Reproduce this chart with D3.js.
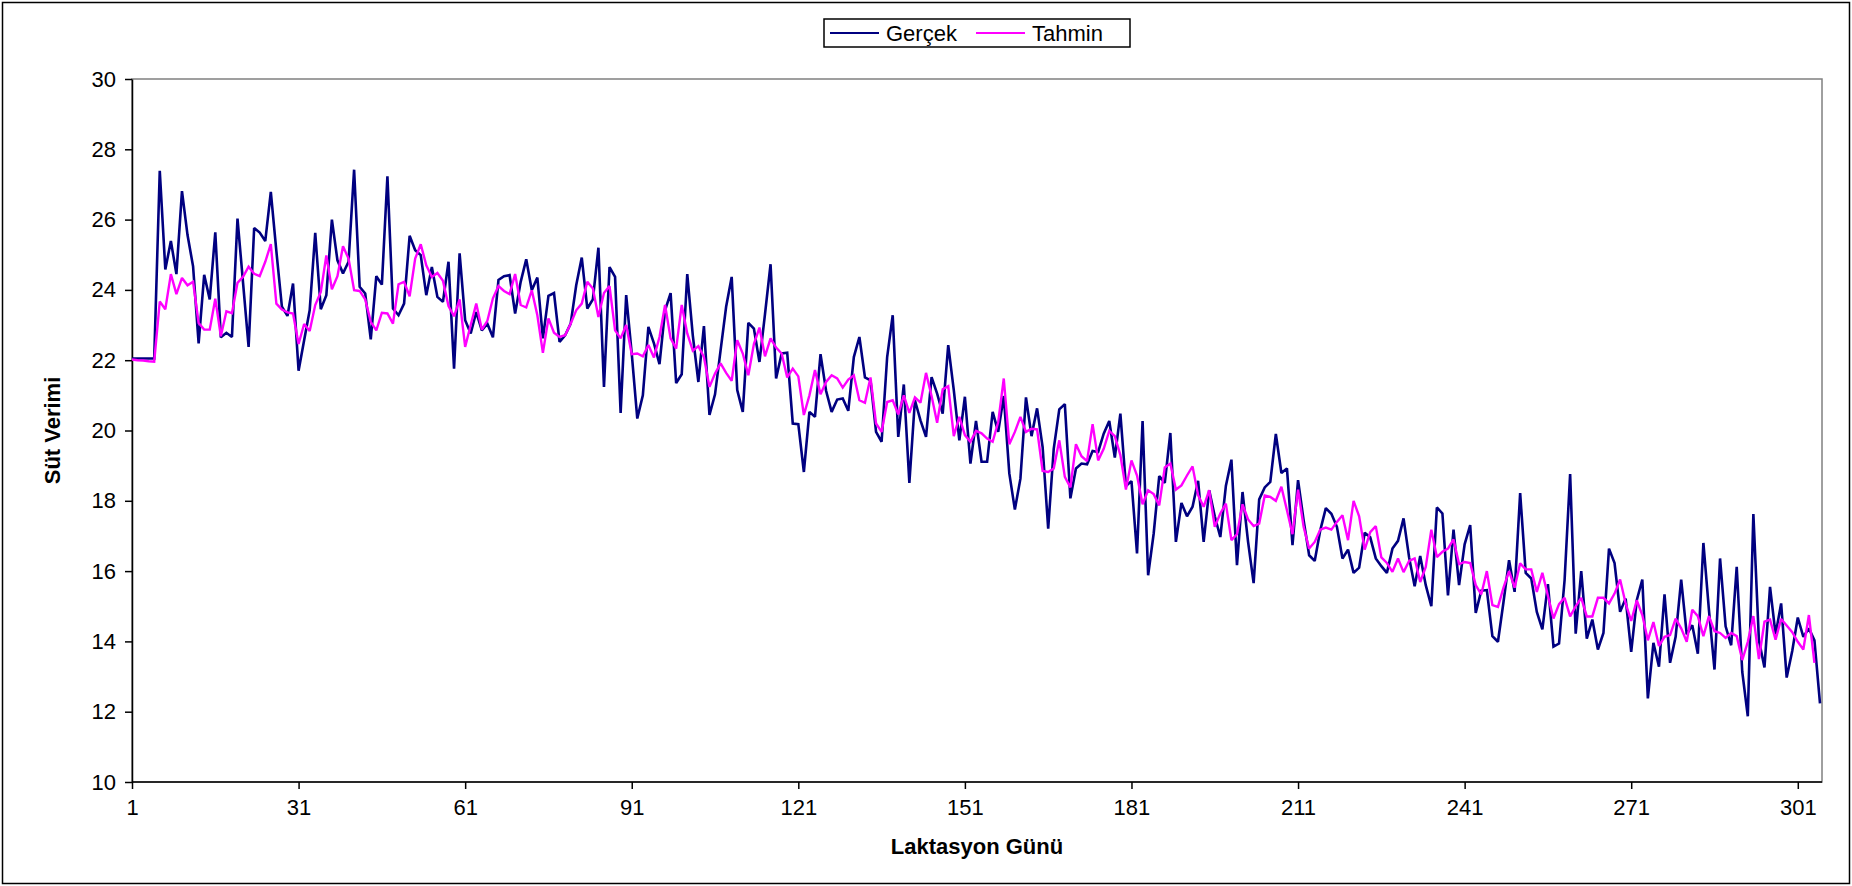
<!DOCTYPE html>
<html>
<head>
<meta charset="utf-8">
<script src="https://cdn.jsdelivr.net/npm/d3@7"></script>
<style>
  body { margin: 0; background: #fff; }
  svg { display: block; }
  text { font-family: Arial, "Liberation Sans", sans-serif; fill: #000; }
</style>
</head>
<body>
<svg id="chart" width="1852" height="886"></svg>
<script>
// Daily milk yield over the lactation: observed (Gerçek) and predicted (Tahmin)
const gercek = [
  22.05, 22.05, 22.05, 22.05, 22.05, 27.39, 24.58, 25.39, 24.45, 26.81,
  25.56, 24.67, 22.48, 24.43, 23.73, 25.64, 22.65, 22.78, 22.66, 26.03,
  24.20, 22.38, 25.76, 25.63, 25.39, 26.79, 25.10, 23.52, 23.26, 24.18,
  21.70, 22.57, 23.42, 25.62, 23.45, 23.85, 26.00, 24.84, 24.47, 24.80,
  27.42, 24.09, 23.90, 22.59, 24.39, 24.15, 27.23, 23.47, 23.28, 23.61,
  25.54, 25.13, 24.99, 23.85, 24.65, 23.80, 23.66, 24.80, 21.76, 25.04,
  23.14, 22.76, 23.37, 22.85, 23.04, 22.65, 24.28, 24.39, 24.42, 23.33,
  24.23, 24.87, 23.99, 24.35, 22.62, 23.83, 23.91, 22.52, 22.71, 23.04,
  24.13, 24.92, 23.47, 23.73, 25.20, 21.24, 24.65, 24.37, 20.50, 23.85,
  22.19, 20.34, 21.00, 22.95, 22.48, 21.89, 23.42, 23.91, 21.35, 21.60,
  24.45, 22.70, 21.38, 22.97, 20.44, 21.03, 22.28, 23.52, 24.37, 21.15,
  20.53, 23.06, 22.90, 21.95, 23.31, 24.73, 21.48, 22.19, 22.21, 20.20,
  20.18, 18.82, 20.53, 20.39, 22.17, 21.13, 20.53, 20.88, 20.91, 20.56,
  22.09, 22.66, 21.51, 21.43, 19.96, 19.68, 22.09, 23.28, 19.82, 21.31,
  18.51, 20.86, 20.29, 19.82, 21.52, 21.05, 20.48, 22.43, 21.15, 19.72,
  20.96, 19.06, 20.27, 19.11, 19.11, 20.53, 19.96, 20.98, 18.78, 17.75,
  18.63, 20.94, 19.84, 20.63, 19.53, 17.21, 19.48, 20.60, 20.75, 18.07,
  18.92, 19.06, 19.04, 19.42, 19.39, 19.91, 20.27, 19.23, 20.48, 18.42,
  18.56, 16.50, 20.27, 15.88, 17.07, 18.70, 18.51, 19.93, 16.83, 17.94,
  17.56, 17.83, 18.57, 16.83, 18.30, 17.56, 16.97, 18.42, 19.17, 16.17,
  18.25, 16.83, 15.66, 18.04, 18.38, 18.54, 19.90, 18.79, 18.92, 16.74,
  18.59, 17.45, 16.45, 16.29, 17.16, 17.79, 17.63, 17.26, 16.36, 16.61,
  15.95, 16.10, 17.09, 16.96, 16.36, 16.14, 15.95, 16.64, 16.86, 17.50,
  16.39, 15.57, 16.43, 15.60, 15.00, 17.81, 17.64, 15.31, 17.18, 15.60,
  16.76, 17.31, 14.81, 15.44, 15.46, 14.15, 13.99, 15.12, 16.31, 15.41,
  18.22, 15.95, 15.79, 14.84, 14.34, 15.63, 13.85, 13.94, 15.74, 18.76,
  14.22, 16.00, 14.08, 14.62, 13.77, 14.24, 16.64, 16.23, 14.84, 15.22,
  13.70, 15.17, 15.76, 12.38, 13.96, 13.28, 15.34, 13.39, 14.13, 15.76,
  14.20, 14.46, 13.65, 16.80, 14.89, 13.20, 16.36, 14.43, 13.89, 16.12,
  13.13, 11.87, 17.62, 14.03, 13.26, 15.55, 14.20, 15.08, 12.97, 13.73,
  14.68, 14.13, 14.37, 14.03, 12.24
];

const tahmin = [
  22.02, 22.00, 21.99, 21.97, 21.96, 23.67, 23.45, 24.45, 23.88, 24.34,
  24.13, 24.23, 23.06, 22.87, 22.87, 23.75, 22.68, 23.39, 23.34, 24.20,
  24.37, 24.66, 24.46, 24.39, 24.80, 25.30, 23.61, 23.44, 23.36, 23.33,
  22.46, 23.03, 22.83, 23.57, 23.94, 24.98, 24.02, 24.39, 25.24, 24.89,
  23.99, 23.97, 23.73, 23.09, 22.85, 23.35, 23.33, 23.04, 24.16, 24.23,
  23.82, 24.89, 25.30, 24.70, 24.37, 24.48, 24.26, 23.54, 23.25, 23.73,
  22.38, 23.00, 23.61, 22.87, 23.12, 23.76, 24.11, 23.97, 23.88, 24.45,
  23.57, 23.50, 23.99, 23.28, 22.21, 23.19, 22.78, 22.66, 22.71, 23.04,
  23.42, 23.61, 24.23, 24.04, 23.23, 23.91, 24.11, 22.85, 22.62, 23.00,
  22.17, 22.19, 22.11, 22.43, 22.08, 22.66, 23.57, 22.62, 22.33, 23.57,
  22.76, 22.27, 22.40, 22.09, 21.24, 21.62, 21.91, 21.64, 21.41, 22.57,
  22.19, 21.57, 22.46, 22.93, 22.11, 22.62, 22.36, 22.19, 21.51, 21.76,
  21.54, 20.44, 21.00, 21.72, 21.03, 21.38, 21.57, 21.48, 21.22, 21.45,
  21.57, 20.86, 20.79, 21.51, 20.20, 19.96, 20.81, 20.86, 20.46, 21.00,
  20.50, 20.94, 20.79, 21.64, 20.98, 20.22, 21.17, 21.26, 19.84, 20.39,
  19.87, 19.68, 19.99, 19.92, 19.77, 19.68, 20.24, 21.48, 19.61, 19.96,
  20.39, 19.96, 20.05, 20.03, 18.85, 18.82, 18.92, 19.72, 18.68, 18.38,
  19.61, 19.27, 19.13, 20.18, 19.15, 19.48, 19.99, 19.84, 19.30, 18.32,
  19.15, 18.72, 17.90, 18.30, 18.19, 17.87, 18.95, 19.06, 18.32, 18.44,
  18.72, 18.98, 18.16, 17.83, 18.30, 17.26, 17.64, 17.92, 16.88, 17.05,
  17.90, 17.47, 17.28, 17.35, 18.15, 18.11, 18.00, 18.40, 17.73, 17.05,
  18.32, 17.26, 16.64, 16.83, 17.18, 17.24, 17.18, 17.40, 17.59, 16.88,
  18.00, 17.56, 16.61, 17.11, 17.28, 16.39, 16.23, 15.98, 16.36, 15.97,
  16.29, 16.36, 15.69, 16.12, 17.18, 16.40, 16.55, 16.64, 16.90, 16.20,
  16.26, 16.23, 15.60, 15.34, 16.00, 15.03, 14.98, 15.53, 16.00, 15.53,
  16.22, 16.05, 16.05, 15.41, 15.95, 15.30, 14.65, 15.06, 15.24, 14.71,
  15.00, 15.24, 14.71, 14.71, 15.24, 15.24, 15.08, 15.36, 15.76, 15.08,
  14.58, 15.17, 14.75, 14.03, 14.55, 13.87, 14.13, 14.18, 14.65, 14.37,
  13.99, 14.90, 14.72, 14.15, 14.72, 14.29, 14.24, 14.10, 14.24, 14.15,
  13.47, 13.99, 14.72, 13.50, 14.56, 14.62, 14.05, 14.64, 14.45, 14.26,
  13.99, 13.77, 14.75, 13.39, null
];

const days = d3.range(1, gercek.length + 1);
const xTickValues = [1, 31, 61, 91, 121, 151, 181, 211, 241, 271, 301];
const yTickValues = [10, 12, 14, 16, 18, 20, 22, 24, 26, 28, 30];
const seriesNames = ["Gerçek", "Tahmin"];

const COLORS = { "Gerçek": "#000080", "Tahmin": "#FF00FF" };
const FONT_TICK = 22, FONT_TITLE = 22;

const svg = d3.select("#chart");
const W = 1852, H = 886;
const plot = { left: 132, right: 1822, top: 79, bottom: 782, lastX: 1820 };

// outer chart frame
svg.append("rect")
  .attr("x", 2.5).attr("y", 2.5)
  .attr("width", W - 5).attr("height", H - 5)
  .attr("fill", "#fff").attr("stroke", "#000").attr("stroke-width", 1.5);

const x = d3.scaleLinear().domain([1, days.length]).range([plot.left, plot.lastX]);
const y = d3.scaleLinear().domain([10, 30]).range([plot.bottom, plot.top]);

// plot-area border
svg.append("rect")
  .attr("x", plot.left).attr("y", plot.top)
  .attr("width", plot.right - plot.left).attr("height", plot.bottom - plot.top)
  .attr("fill", "none").attr("stroke", "#808080").attr("stroke-width", 1.5);

// y axis
const yAxis = svg.append("g")
  .attr("transform", `translate(${plot.left},0)`)
  .call(d3.axisLeft(y).tickValues(yTickValues).tickSize(7).tickPadding(9).tickSizeOuter(0));
yAxis.select(".domain").attr("stroke", "#000").attr("stroke-width", 1.5);
yAxis.selectAll(".tick line").attr("stroke", "#000").attr("stroke-width", 1.5);
yAxis.selectAll(".tick text").attr("font-size", FONT_TICK).attr("font-family", "Arial, 'Liberation Sans', sans-serif");

// x axis
const xAxis = svg.append("g")
  .attr("transform", `translate(0,${plot.bottom})`)
  .call(d3.axisBottom(x).tickValues(xTickValues).tickFormat(d3.format("d"))
    .tickSize(7).tickPadding(10).tickSizeOuter(0));
xAxis.select(".domain").attr("stroke", "#000").attr("stroke-width", 1.5)
  .attr("d", `M${plot.left},0H${plot.right}`);
xAxis.selectAll(".tick line").attr("stroke", "#000").attr("stroke-width", 1.5);
xAxis.selectAll(".tick text").attr("font-size", FONT_TICK).attr("font-family", "Arial, 'Liberation Sans', sans-serif");

// series lines
const series = [
  { name: seriesNames[0], values: gercek, width: 2.6 },
  { name: seriesNames[1], values: tahmin, width: 2.4 }
];
const line = d3.line()
  .defined(d => d.v != null)
  .x(d => x(d.day))
  .y(d => y(d.v));

series.forEach(s => {
  svg.append("path")
    .datum(days.map((day, i) => ({ day, v: s.values[i] })))
    .attr("d", line)
    .attr("fill", "none")
    .attr("stroke", COLORS[s.name])
    .attr("stroke-width", s.width)
    .attr("stroke-linejoin", "miter")
    .attr("stroke-miterlimit", 2);
});

// axis titles
svg.append("text")
  .attr("x", (plot.left + plot.right) / 2)
  .attr("y", 854)
  .attr("text-anchor", "middle")
  .attr("font-size", FONT_TITLE).attr("font-weight", "bold")
  .text("Laktasyon Günü");

svg.append("text")
  .attr("transform", `translate(60,${(plot.top + plot.bottom) / 2}) rotate(-90)`)
  .attr("text-anchor", "middle")
  .attr("font-size", FONT_TITLE).attr("font-weight", "bold")
  .text("Süt Verimi");

// legend
const lg = svg.append("g").attr("transform", "translate(824,19)");
lg.append("rect").attr("width", 306).attr("height", 28)
  .attr("fill", "#fff").attr("stroke", "#000").attr("stroke-width", 1.5);
const legendOffsets = [6, 152];
seriesNames.forEach((name, i) => {
  const g = lg.append("g").attr("transform", `translate(${legendOffsets[i]},0)`);
  g.append("line").attr("x1", 0).attr("x2", 49).attr("y1", 14).attr("y2", 14)
    .attr("stroke", COLORS[name]).attr("stroke-width", 2.2);
  g.append("text").attr("x", 56).attr("y", 22)
    .attr("font-size", FONT_TICK).text(name);
});
</script>
</body>
</html>
